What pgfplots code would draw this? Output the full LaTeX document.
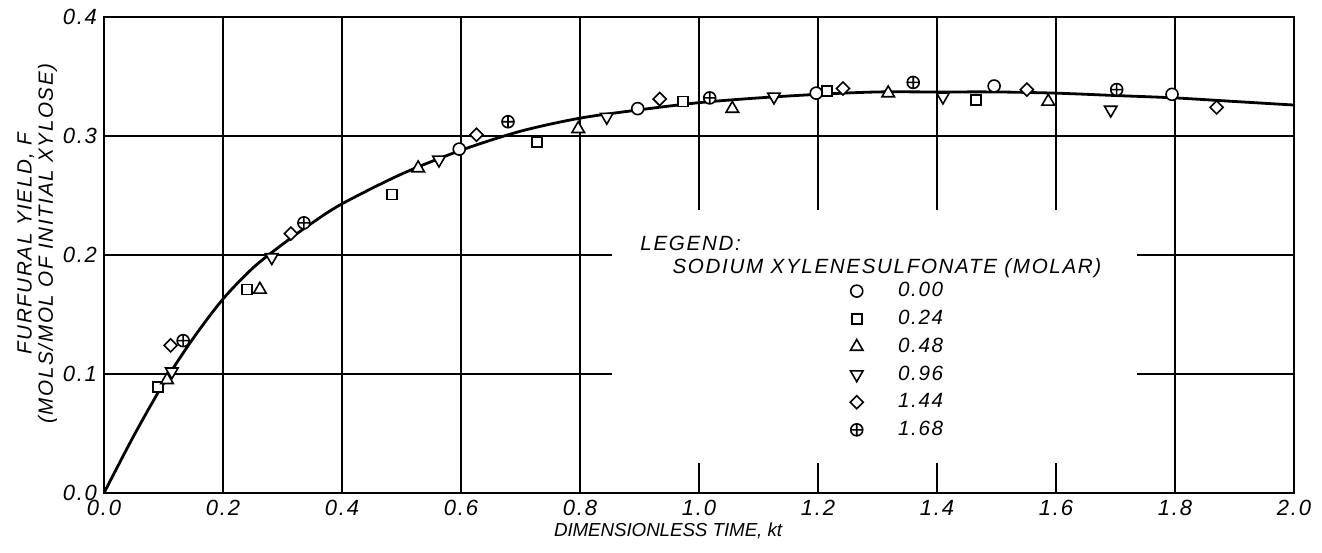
\documentclass[border=0pt]{standalone}
\usepackage{fontspec}
\setmainfont{Liberation Sans}[LetterSpace=8]
\usepackage{pgfplots}
\pgfplotsset{compat=1.18}

\begin{document}
\begin{tikzpicture}[font=\fontsize{10.3}{11}\selectfont\itshape]
\begin{axis}[
  name=ax, scale only axis,
  width=595pt, height=238pt,
  xmin=0, xmax=2, ymin=0, ymax=0.4,
  xtick={0,0.2,0.4,0.6,0.8,1.0,1.2,1.4,1.6,1.8,2.0},
  ytick={0,0.1,0.2,0.3,0.4},
  grid=major, grid style={black, line width=0.7pt},
  axis line style={line width=0.9pt},
  major tick length=0pt,
  /pgf/number format/assume math mode=true,
  xticklabel style={/pgf/number format/.cd, fixed, fixed zerofill, precision=1},
  yticklabel style={/pgf/number format/.cd, fixed, fixed zerofill, precision=1},
  tick label style={font=\fontsize{11}{12}\selectfont\itshape},
  xlabel={DIMENSIONLESS TIME, kt},
  xlabel style={font=\fontsize{9.4}{11}\selectfont\itshape\addfontfeature{LetterSpace=-0.5},
    at={(ticklabel cs:0.474)}, anchor=north, yshift=3pt},
  ylabel={FURFURAL YIELD, F\\(MOLS/MOL OF INITIAL XYLOSE)},
  ylabel style={align=center, font=\fontsize{10.3}{10.6}\selectfont\itshape,
    at={(ticklabel cs:0.524)}, anchor=south, yshift=-4pt},
  mark options={fill=white, draw=black, line width=0.8pt, solid},
  legend style={draw=none, fill=none, at={(axis cs:1.225,0.184)}, anchor=north west,
    row sep=1.2pt, font=\fontsize{10.3}{11}\selectfont\itshape},
  legend cell align=left,
  legend image code/.code={\path (0,0) (0.95cm,0); \draw[#1] plot coordinates {(0.3cm,0cm)};},
]
% fitted curve
\addplot[smooth, line width=1.4pt, forget plot] coordinates {
  (0,0) (0.05,0.048) (0.1,0.092) (0.15,0.130) (0.2,0.163) (0.25,0.189)
  (0.3,0.209) (0.35,0.227) (0.4,0.243) (0.5,0.268) (0.6,0.288) (0.7,0.304)
  (0.8,0.315) (0.9,0.322) (1.0,0.328) (1.1,0.332) (1.2,0.335) (1.3,0.337)
  (1.4,0.337) (1.5,0.337) (1.6,0.336) (1.7,0.334) (1.8,0.332) (1.9,0.329) (2.0,0.326)};
\fill[white] (axis cs:0.854,0.025) rectangle (axis cs:1.736,0.238);

\addplot[only marks, mark=*, mark size=3pt] coordinates {
  (0.597,0.289) (0.897,0.323) (1.197,0.336) (1.496,0.342) (1.795,0.335)};
\addlegendentry{0.00}
\addplot[only marks, mark=square*, mark size=2.5pt] coordinates {
  (0.091,0.089) (0.240,0.171) (0.484,0.251) (0.728,0.295) (0.973,0.329) (1.215,0.338) (1.466,0.330)};
\addlegendentry{0.24}
\addplot[only marks, mark=triangle*, mark size=3.6pt] coordinates {
  (0.106,0.095) (0.262,0.171) (0.528,0.273) (0.797,0.306) (1.056,0.323) (1.318,0.336) (1.587,0.329)};
\addlegendentry{0.48}
\addplot[only marks, mark=triangle*, mark size=3.6pt,
  mark options={fill=white, draw=black, line width=0.8pt, solid, rotate=180}] coordinates {
  (0.114,0.102) (0.282,0.198) (0.563,0.280) (0.845,0.316) (1.126,0.333) (1.410,0.333) (1.692,0.322)};
\addlegendentry{0.96}
\addplot[only marks, mark=square*, mark size=2.3pt,
  mark options={fill=white, draw=black, line width=0.8pt, solid, rotate=45}] coordinates {
  (0.112,0.124) (0.314,0.218) (0.626,0.301) (0.934,0.331) (1.242,0.340) (1.551,0.339) (1.870,0.324)};
\addlegendentry{1.44}
\addplot[only marks, mark=oplus*, mark size=3pt] coordinates {
  (0.133,0.128) (0.336,0.227) (0.679,0.312) (1.018,0.332) (1.360,0.345) (1.702,0.339)};
\addlegendentry{1.68}

\node[anchor=west, inner sep=0pt] at (axis cs:0.901,0.210) {LEGEND:};
\node[anchor=west, inner sep=0pt] at (axis cs:0.955,0.189) {SODIUM XYLENESULFONATE (MOLAR)};
\end{axis}
\path ([xshift=-52pt,yshift=-30pt]ax.south west) rectangle ([xshift=14pt,yshift=8.5pt]ax.north east);
\end{tikzpicture}
\end{document}
